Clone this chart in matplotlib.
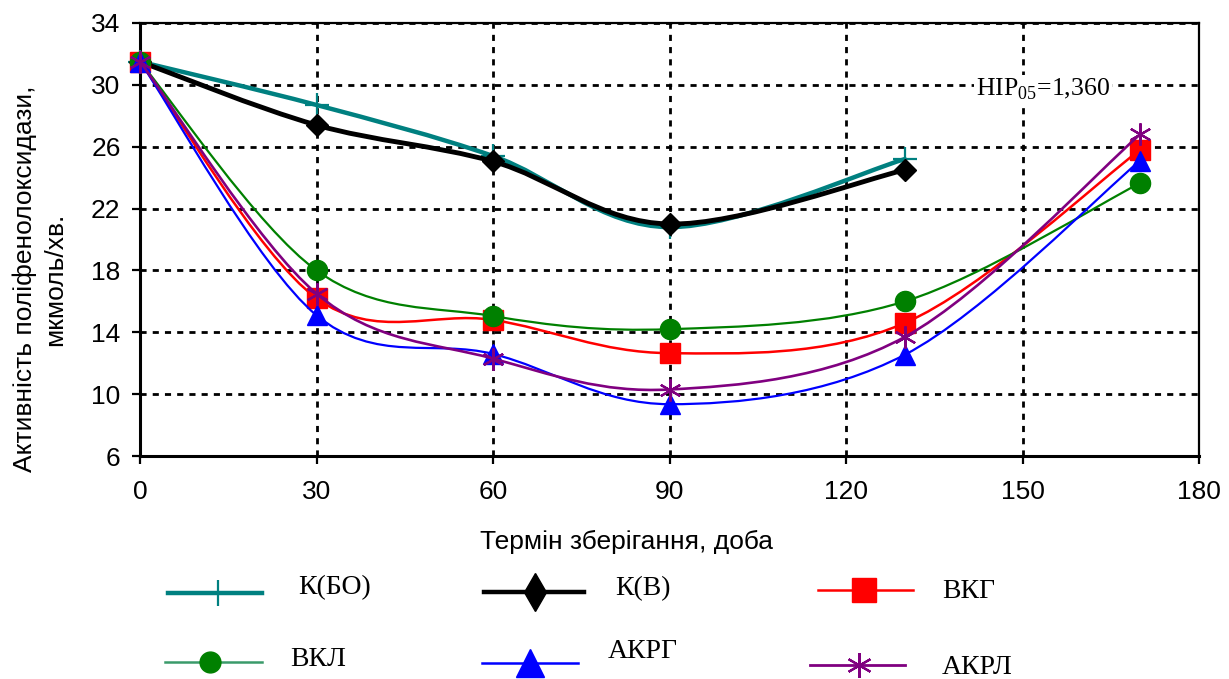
import numpy as np
import matplotlib
matplotlib.use("Agg")
import matplotlib.pyplot as plt
from matplotlib.path import Path
from matplotlib.patches import PathPatch
from matplotlib.lines import Line2D

plt.rcParams['font.family'] = ['Liberation Sans', 'DejaVu Sans']
plt.rcParams['mathtext.fontset'] = 'custom'
plt.rcParams['mathtext.rm'] = 'Liberation Serif'

# Дані: термін зберігання (доба) та активність ПФО
dni = [0, 30, 60, 90, 130, 170]
dni_k = [0, 30, 60, 90, 130]

k_bo = [31.5, 28.7, 25.4, 20.8, 25.2]
k_v = [31.5, 27.4, 25.05, 21.0, 24.5]
vkg = [31.5, 16.2, 14.8, 12.65, 14.6, 25.8]
vkl = [31.5, 18.0, 15.05, 14.2, 16.0, 23.65]
akrg = [31.5, 15.1, 12.6, 9.35, 12.55, 25.1]
akrl = [31.5, 16.5, 12.3, 10.3, 13.7, 26.8]

x_ticks = [0, 30, 60, 90, 120, 150, 180]
y_ticks = [6, 10, 14, 18, 22, 26, 30, 34]

# назва, x, y, колір, товщина лінії, маркер, розмір, товщина маркера
serii = [
    ("К(БО)", dni_k, k_bo, '#008080', 3.2, '+', 17, 1.6),
    ("К(В)", dni_k, k_v, 'black', 3.5, 'D', 11.5, 1.0),
    ("ВКГ", dni, vkg, '#ff0000', 1.8, 's', 15, 1.0),
    ("ВКЛ", dni, vkl, '#008000', 1.6, 'o', 14.5, 1.0),
    ("АКРГ", dni, akrg, '#0000ff', 1.6, '^', 14.5, 1.0),
    ("АКРЛ", dni, akrl, '#800080', 1.9, (6, 2, 0), 16, 1.6),
]


def zgladzhena_liniya(xs, ys):
    # згладжування як у Excel: кубічні криві Безьє між точками
    p = np.column_stack([xs, ys]).astype(float)
    n = len(p)
    verts = [p[0]]
    codes = [Path.MOVETO]
    for i in range(n - 1):
        p0 = p[max(i - 1, 0)]
        p1 = p[i]
        p2 = p[i + 1]
        p3 = p[min(i + 2, n - 1)]
        verts += [p1 + (p2 - p0) / 6, p2 - (p3 - p1) / 6, p2]
        codes += [Path.CURVE4] * 3
    return Path(verts, codes)


fig = plt.figure(figsize=(12.29, 6.79), dpi=100)
ax = fig.add_axes([140 / 1229, 1 - 456 / 679, 1059 / 1229, 433 / 679])

for k, (nazva, xs, ys, kolir, lw, mk, ms, mew) in enumerate(serii):
    patch = PathPatch(zgladzhena_liniya(xs, ys), facecolor='none', edgecolor=kolir,
                      lw=lw, zorder=3 + k, capstyle='round', joinstyle='round')
    ax.add_patch(patch)
    ax.plot(xs, ys, linestyle='none', marker=mk, markersize=ms, color=kolir,
            markeredgewidth=mew, zorder=3 + k, clip_on=False)

ax.set_xlim(0, 180)
ax.set_ylim(6, 34)
ax.set_xticks(x_ticks)
ax.set_yticks(y_ticks)
ax.tick_params(axis='both', direction='out', length=6, width=1.6, labelsize=19)
ax.tick_params(axis='x', pad=11)
ax.tick_params(axis='y', pad=8)
ax.grid(True, color='black', linestyle=(0, (2.2, 2.2)), linewidth=2.0, zorder=1)
ax.set_axisbelow(True)
for s in ['left', 'bottom']:
    ax.spines[s].set_linewidth(2.2)
for s in ['top', 'right']:
    ax.spines[s].set_linewidth(1.6)

ax.text(153.5, 29.7, r"HIP$_{\mathrm{05}}$=1,360", fontsize=18.5, family='Liberation Serif',
        ha='center', va='center', zorder=2,
        bbox=dict(facecolor='white', edgecolor='none', pad=1.5))

fig.text(40 / 1229, 1 - 279 / 679, "Активність поліфенолоксидази,\nмкмоль/хв.",
         rotation=90, ha='center', va='center', multialignment='center',
         fontsize=19, linespacing=1.3)
fig.text(627 / 1229, 1 - 542 / 679, "Термін зберігання, доба",
         ha='center', va='center', fontsize=19)

# легенда вручну (в пікселях фігури)
leg = fig.add_axes([0, 0, 1, 1], zorder=-1)
leg.set_xlim(0, 1229)
leg.set_ylim(679, 0)
leg.axis('off')

leg_pos = [
    (168, 262, 593, 218, 298, 588),
    (484, 584, 592, 535, 615, 589),
    (818, 913, 590, 864, 942, 592),
    (165, 262, 662, 210, 290, 659),
    (482, 578, 663, 530, 608, 652),
    (810, 905, 665, 859, 942, 667),
]
leg_mk = ['+', 'd', 's', 'o', '^', (6, 2, 0)]
leg_ms = [19, 19, 17, 15, 20, 18]
leg_lw = [3.2, 3.2, 1.8, 1.8, 1.8, 2.0]
leg_line_col = ['#008080', 'black', '#ff0000', '#3a9a6a', '#0000ff', '#800080']

for k, (nazva, xs, ys, kolir, lw, mk, ms, mew) in enumerate(serii):
    x0, x1, yl, xm, xt, yt = leg_pos[k]
    leg.add_line(Line2D([x0, x1], [yl, yl], color=leg_line_col[k], lw=leg_lw[k]))
    leg.add_line(Line2D([xm], [yl], color=kolir, marker=leg_mk[k], markersize=leg_ms[k],
                        markeredgewidth=mew, linestyle='none'))
    leg.text(xt, yt, nazva, fontsize=20, family='Liberation Serif', ha='left', va='center')

fig.savefig("out.png", dpi=100)
